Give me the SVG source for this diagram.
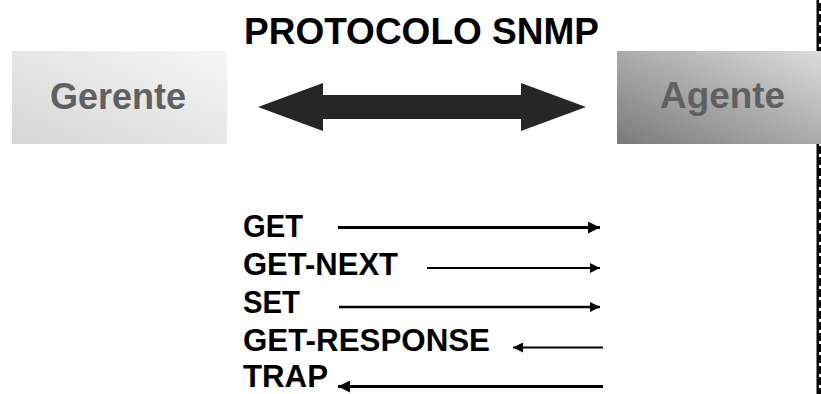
<svg xmlns="http://www.w3.org/2000/svg" width="821" height="394" viewBox="0 0 821 394">
<style>
.t{font-family:"Liberation Sans",Arial,sans-serif;font-weight:bold}
.node{font-size:36px;fill:#606060}
.lbl{font-size:31px;fill:#000}
.ln{stroke:#000;fill:none}
</style>
<defs>
<linearGradient id="gG" x1="0" y1="1" x2="1" y2="0">
<stop offset="0" stop-color="#d6d6d6"/>
<stop offset="1" stop-color="#f6f6f6"/>
</linearGradient>
<linearGradient id="gA" x1="0" y1="1" x2="1" y2="0">
<stop offset="0" stop-color="#7a7a7a"/>
<stop offset="1" stop-color="#dcdcdc"/>
</linearGradient>
<marker id="ah" viewBox="0 0 10 10" refX="10" refY="5" markerWidth="4" markerHeight="4" orient="auto" markerUnits="strokeWidth">
<path d="M0,0 L10,5 L0,10 z" fill="#000"/>
</marker>
<marker id="ah2" viewBox="0 0 10 10" refX="10" refY="5" markerWidth="5" markerHeight="5" orient="auto" markerUnits="strokeWidth">
<path d="M0,0 L10,5 L0,10 z" fill="#000"/>
</marker>
</defs>
<rect width="821" height="394" fill="#fff"/>
<g id="border">
<rect x="816.5" y="0" width="4.5" height="394" fill="#000"/>
<line x1="820" y1="0" x2="820" y2="394" stroke="#fff" stroke-width="2" stroke-dasharray="3 8"/>
</g>
<text class="t" x="244" y="44" font-size="37">PROTOCOLO SNMP</text>
<g id="gerente">
<rect x="12" y="51" width="215" height="93" fill="url(#gG)"/>
<text class="t node" x="50" y="109" textLength="136" lengthAdjust="spacingAndGlyphs">Gerente</text>
</g>
<g id="agente">
<rect x="617" y="51" width="204" height="93" fill="url(#gA)"/>
<text class="t node" x="660" y="108" textLength="125" lengthAdjust="spacingAndGlyphs">Agente</text>
</g>
<g id="connectors">
<path d="M258,107 L323,83 L323,95 L521,95 L521,83 L586,107 L521,131 L521,119 L323,119 L323,131 Z" fill="#262626"/>
<line class="ln" x1="338" y1="227.5" x2="600" y2="227.5" stroke-width="3" marker-end="url(#ah)"/>
<line class="ln" x1="427" y1="268" x2="600" y2="268" stroke-width="2" marker-end="url(#ah2)"/>
<line class="ln" x1="339" y1="307" x2="600" y2="307" stroke-width="2.5" marker-end="url(#ah)"/>
<line class="ln" x1="603" y1="347.5" x2="513" y2="347.5" stroke-width="2" marker-end="url(#ah2)"/>
<line class="ln" x1="603" y1="386.5" x2="338" y2="386.5" stroke-width="3" marker-end="url(#ah)"/>
</g>
<g id="labels">
<text class="t lbl" x="243" y="237" textLength="60" lengthAdjust="spacingAndGlyphs">GET</text>
<text class="t lbl" x="243" y="275" textLength="155" lengthAdjust="spacingAndGlyphs">GET-NEXT</text>
<text class="t lbl" x="243" y="313" textLength="57" lengthAdjust="spacingAndGlyphs">SET</text>
<text class="t lbl" x="243" y="351" textLength="247" lengthAdjust="spacingAndGlyphs">GET-RESPONSE</text>
<text class="t lbl" x="243" y="387" textLength="85" lengthAdjust="spacingAndGlyphs">TRAP</text>
</g>
</svg>
